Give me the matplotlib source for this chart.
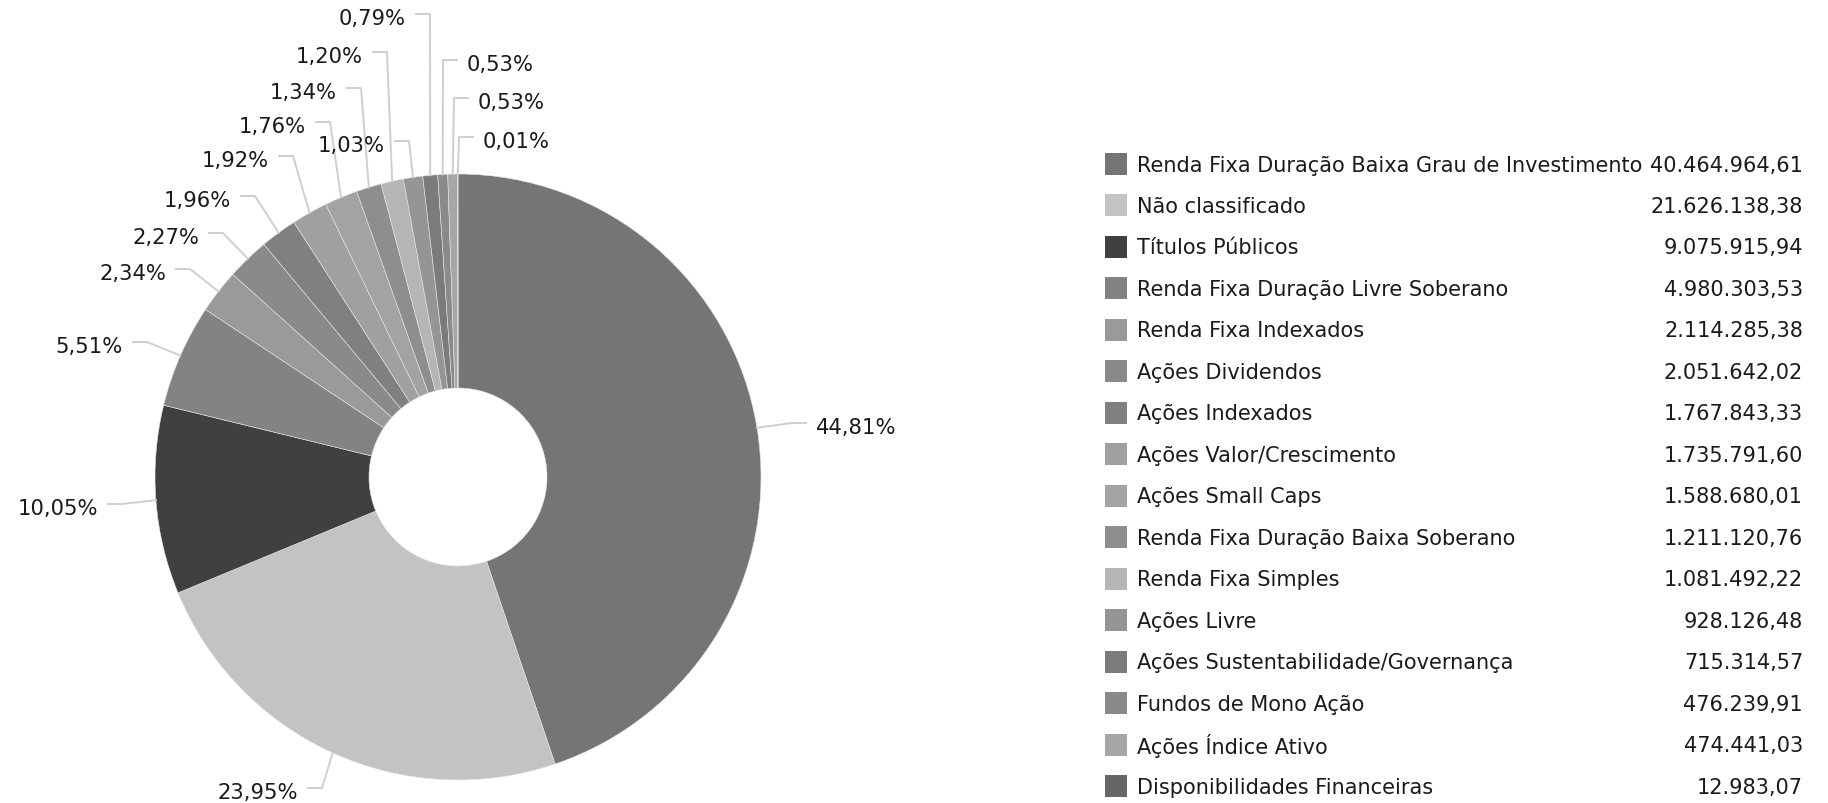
"""
Donut chart of portfolio allocation by fund category, with legend table
"""
import numpy as np
from matplotlib import pyplot
from matplotlib.patches import Rectangle

categories = [
    "Renda Fixa Duração Baixa Grau de Investimento",
    "Não classificado",
    "Títulos Públicos",
    "Renda Fixa Duração Livre Soberano",
    "Renda Fixa Indexados",
    "Ações Dividendos",
    "Ações Indexados",
    "Ações Valor/Crescimento",
    "Ações Small Caps",
    "Renda Fixa Duração Baixa Soberano",
    "Renda Fixa Simples",
    "Ações Livre",
    "Ações Sustentabilidade/Governança",
    "Fundos de Mono Ação",
    "Ações Índice Ativo",
    "Disponibilidades Financeiras",
]
amounts = [
    40464964.61, 21626138.38, 9075915.94, 4980303.53, 2114285.38,
    2051642.02, 1767843.33, 1735791.60, 1588680.01, 1211120.76,
    1081492.22, 928126.48, 715314.57, 476239.91, 474441.03, 12983.07,
]
colors = [
    "#757575", "#c3c3c3", "#404040", "#838383", "#9a9a9a", "#8a8a8a",
    "#808080", "#a0a0a0", "#a3a3a3", "#8e8e8e", "#b5b5b5", "#959595",
    "#7b7b7b", "#8a8a8a", "#a6a6a6", "#666666",
]

# label layout: elbow point of each leader line (pixels), and text side
label_elbow = [
    (792, 424), (322, 789), (122, 505), (147, 343), (190, 270), (223, 234),
    (255, 197), (293, 157), (330, 123), (361, 89), (387, 53), (409, 142),
    (430, 15), (443, 61), (454, 99), (459, 138),
]
label_side = [1, -1, -1, -1, -1, -1, -1, -1, -1, -1, -1, -1, -1, 1, 1, 1]

W, H = 1828, 804
CX, CY, R, HOLE = 458, 478, 303, 89
FONT = "DejaVu Sans"
TXT = "#1a1a1a"


def fmt_money(v):
    s = f"{v:,.2f}"
    return s.replace(",", "X").replace(".", ",").replace("X", ".")


def fmt_pct(p):
    return f"{p:.2f}%".replace(".", ",")


fig = pyplot.figure(figsize=(W / 100, H / 100), dpi=100)
ax = fig.add_axes([0, 0, 1, 1])

wedges, _ = ax.pie(
    amounts, colors=colors, center=(CX, CY), radius=R,
    startangle=270, counterclock=True,
    wedgeprops=dict(width=R - HOLE, edgecolor="#e6e6e6", linewidth=0.4),
)
ax.set_xlim(0, W)
ax.set_ylim(H, 0)
ax.set_aspect("equal")
ax.axis("off")

total = sum(amounts)
for wedge, val, (ex, ey), side in zip(wedges, amounts, label_elbow, label_side):
    theta = np.deg2rad((wedge.theta1 + wedge.theta2) / 2)
    axx = CX + R * np.cos(theta)
    axy = CY + R * np.sin(theta)
    end_x = ex + side * 14
    ax.plot([axx, ex, end_x], [axy, ey, ey], color="#cfcfcf", lw=1.4,
            solid_joinstyle="round", zorder=1)
    ax.text(ex + side * 24, ey + 4, fmt_pct(val / total * 100),
            ha="left" if side > 0 else "right", va="center",
            fontsize=15.2, family=FONT, color=TXT)

# legend table
row0, step = 164.5, 41.5
for i, (name, val, col) in enumerate(zip(categories, amounts, colors)):
    y = row0 + i * step
    ax.add_patch(Rectangle((1105, y - 11), 22, 22, facecolor=col, edgecolor="none"))
    ax.text(1137, y + 1, name, ha="left", va="center",
            fontsize=15, family=FONT, color=TXT)
    ax.text(1803, y + 1, fmt_money(val), ha="right", va="center",
            fontsize=15, family=FONT, color=TXT)

fig.savefig("out.png", dpi=100)
pyplot.close(fig)
